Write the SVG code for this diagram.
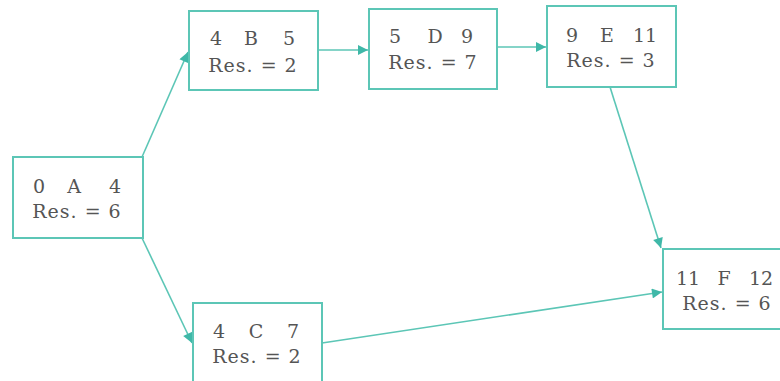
<svg xmlns="http://www.w3.org/2000/svg" width="780" height="381" viewBox="0 0 780 381">
<style>
.box{fill:#fff;stroke:#5cc6b6;stroke-width:2}
.t{font-family:"DejaVu Serif","Liberation Serif",serif;font-size:19px;fill:#555;text-anchor:middle}
.r{letter-spacing:1px}
.e{stroke:#5cc6b6;stroke-width:1.6;fill:none;marker-end:url(#ah)}
</style>
<defs>
<marker id="ah" viewBox="0 0 10 10" refX="10" refY="5" markerWidth="12" markerHeight="10" markerUnits="userSpaceOnUse" orient="auto">
<path d="M0,0 L10,5 L0,10 Z" fill="#3fb8a8"/>
</marker>
</defs>
<rect width="780" height="381" fill="#fff"/>
<g id="connectors">
<line class="e" x1="142" y1="157" x2="188" y2="52"/>
<line class="e" x1="142" y1="238" x2="192" y2="343"/>
<line class="e" x1="318" y1="50" x2="368" y2="50"/>
<line class="e" x1="497" y1="47" x2="546" y2="47"/>
<line class="e" x1="610" y1="87" x2="661" y2="248"/>
<line class="e" x1="322" y1="343" x2="662" y2="292"/>
</g>
<g id="A">
<rect class="box" x="13" y="157" width="130" height="81"/>
<text class="t" y="193"><tspan x="39">0</tspan><tspan x="74">A</tspan><tspan x="115">4</tspan></text>
<text class="t r" x="77" y="218">Res. = 6</text>
</g>
<g id="B">
<rect class="box" x="189" y="11" width="129" height="79"/>
<text class="t" y="45"><tspan x="216">4</tspan><tspan x="251">B</tspan><tspan x="289">5</tspan></text>
<text class="t r" x="253" y="72">Res. = 2</text>
</g>
<g id="D">
<rect class="box" x="369" y="9" width="128" height="80"/>
<text class="t" y="43"><tspan x="395">5</tspan><tspan x="435">D</tspan><tspan x="467">9</tspan></text>
<text class="t r" x="433" y="69">Res. = 7</text>
</g>
<g id="E">
<rect class="box" x="547" y="6" width="129" height="81"/>
<text class="t" y="42"><tspan x="572">9</tspan><tspan x="607">E</tspan><tspan x="645">11</tspan></text>
<text class="t r" x="611" y="67">Res. = 3</text>
</g>
<g id="C">
<rect class="box" x="193" y="303" width="129" height="82"/>
<text class="t" y="338"><tspan x="219">4</tspan><tspan x="256">C</tspan><tspan x="293">7</tspan></text>
<text class="t r" x="257" y="363">Res. = 2</text>
</g>
<g id="F">
<rect class="box" x="663" y="249" width="130" height="80"/>
<text class="t" y="285"><tspan x="688">11</tspan><tspan x="724">F</tspan><tspan x="761">12</tspan></text>
<text class="t r" x="727" y="310">Res. = 6</text>
</g>
</svg>
